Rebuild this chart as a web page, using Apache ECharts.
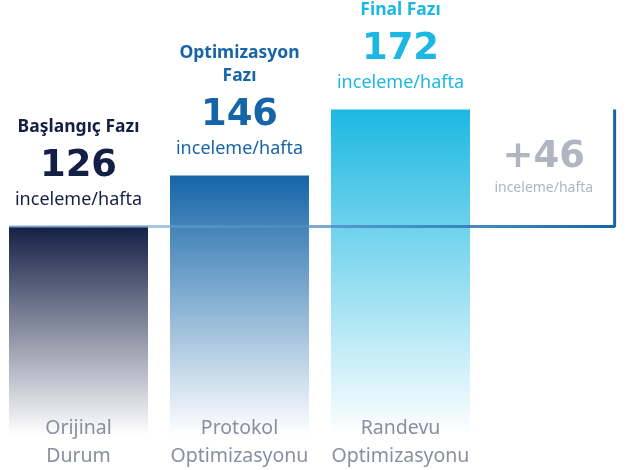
<!DOCTYPE html>
<html>
<head>
<meta charset="utf-8">
<script src="https://cdn.jsdelivr.net/npm/echarts@6/dist/echarts.min.js"></script>
<style>
  html, body { margin: 0; padding: 0; background: #fff; }
  #main { width: 635px; height: 470px; }
</style>
</head>
<body>
<div id="main"></div>
<script>
const categories = ["Orijinal\nDurum", "Protokol\nOptimizasyonu", "Randevu\nOptimizasyonu", ""];
const phases = ["Başlangıç Fazı", "Optimizasyon\nFazı", "Final Fazı"];
const values = [126, 146, 172];
const unit = "inceleme/hafta";
const colors = ["#141f45", "#1565a8", "#1cb8e2"];
const gainColor = "#9ea2b0";

const gain = values[values.length - 1] - values[0];

function fade(c) {
  return new echarts.graphic.LinearGradient(0, 0, 0, 1, [
    { offset: 0, color: c },
    { offset: 1, color: "#ffffff" },
  ]);
}

function topLabel(i) {
  const lines = phases[i].split("\n");
  let name = lines
    .map((l, k) => (k === lines.length - 1 ? "{nl|" + l + "}" : "{n|" + l + "}"))
    .join("\n");
  return name + "\n{v|" + values[i] + "}\n{u|" + unit + "}";
}

const barData = values.map((v, i) => ({
  value: v,
  itemStyle: { color: fade(colors[i]) },
  label: {
    show: true,
    position: "top",
    distance: 20,
    formatter: topLabel(i),
    rich: {
      n: { fontFamily: "Noto Sans", fontWeight: "bold", fontSize: 17.5, lineHeight: 20, color: colors[i] },
      nl: { fontFamily: "Noto Sans", fontWeight: "bold", fontSize: 17.5, lineHeight: 27, color: colors[i] },
      v: { fontFamily: "DejaVu Sans", fontWeight: "bold", fontSize: 37, lineHeight: 52, color: colors[i] },
      u: { fontFamily: "Noto Sans", fontSize: 18, lineHeight: 14, color: colors[i] },
    },
  },
}));

const chart = echarts.init(document.getElementById("main"));

chart.setOption({
  animation: false,
  grid: { left: -2, right: -7, top: 0, bottom: 35, containLabel: false, outerBoundsMode: "none" },
  xAxis: [
    {
      type: "category",
      data: categories,
      z: 10,
      axisLine: { show: false },
      axisTick: { show: false },
      axisLabel: {
        interval: 0,
        hideOverlap: false,
        margin: -21,
        fontFamily: "Noto Sans",
        fontSize: 19.5,
        lineHeight: 28,
        color: "#8a8f9f",
      },
    },
    { type: "value", min: -0.5, max: 3.5, show: false },
  ],
  yAxis: { type: "value", min: 44, max: 215, show: false },
  series: [
    {
      type: "bar",
      data: barData,
      barWidth: 139,
      z: 2,
    },
    {
      type: "line",
      xAxisIndex: 1,
      data: [
        [-0.43, values[0]],
        [3.33, values[0]],
        [3.33, values[2]],
      ],
      symbol: "none",
      clip: false,
      z: 3,
      lineStyle: {
        width: 3,
        color: new echarts.graphic.LinearGradient(0, 0, 1, 0, [
          { offset: 0, color: "rgba(130,180,220,0.45)" },
          { offset: 1, color: "#1565a8" },
        ]),
      },
    },
    {
      type: "scatter",
      xAxisIndex: 1,
      symbolSize: 0,
      data: [[2.89, (values[0] + values[2]) / 2]],
      label: {
        show: true,
        position: "inside",
        formatter: "{v|+" + gain + "}\n{u|" + unit + "}",
        rich: {
          v: { fontFamily: "DejaVu Sans", fontWeight: "bold", fontSize: 37, lineHeight: 40, color: gainColor },
          u: { fontFamily: "Noto Sans", fontSize: 14, lineHeight: 22, color: gainColor },
        },
      },
    },
  ],
});
</script>
</body>
</html>
